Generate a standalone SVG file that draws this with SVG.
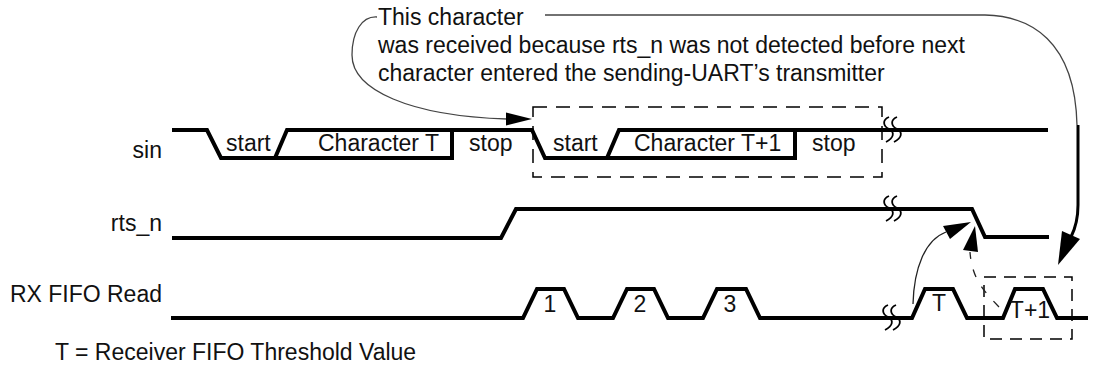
<svg xmlns="http://www.w3.org/2000/svg" width="1093" height="369" viewBox="0 0 1093 369">
<style>
text{font-family:"Liberation Sans",Arial,sans-serif;font-size:23px;fill:#111}
.lbl{text-anchor:end}
.mid{text-anchor:middle}
.sig{fill:none;stroke:#000;stroke-width:4;stroke-linejoin:miter}
.box{fill:none;stroke:#000;stroke-width:1.5;stroke-dasharray:14 9}
.box2{fill:none;stroke:#000;stroke-width:1.5;stroke-dasharray:12 8}
.brk{fill:none;stroke:#000;stroke-width:1.8}
.thin{fill:none;stroke:#444;stroke-width:1.3}
.solid{fill:none;stroke:#222;stroke-width:1.3}
.dash2{fill:none;stroke:#222;stroke-width:1.3;stroke-dasharray:8 11}
.head{fill:#000;stroke:none}
</style>
<defs>
<g id="brk">
<path class="brk" d="M0,-13 c-7,3 -6,9 0,12 c6,3 5,9 -3,13"/>
<path class="brk" d="M8,-13 c-7,3 -6,9 0,12 c6,3 5,9 -3,13"/>
</g>
</defs>
<rect width="1093" height="369" fill="#fff"/>

<g id="note">
<text x="378" y="25">This character</text>
<text x="378" y="53">was received because rts_n was not detected before next</text>
<text x="378" y="81">character entered the sending-UART’s transmitter</text>
</g>

<g id="sin">
<text class="lbl" x="162" y="158">sin</text>
<path class="sig" d="M172,130 H207 L221,158 H452 V130"/>
<path class="sig" d="M275,158 L287,130 H532 L545,158 H795 V130"/>
<path class="sig" d="M607,158 L619,130 H1048"/>
<text x="226" y="151">start</text>
<text x="318" y="151">Character T</text>
<text x="469" y="151">stop</text>
<text x="553" y="151">start</text>
<text x="634" y="151">Character T+1</text>
<text x="812" y="151">stop</text>
<rect class="box" x="533" y="107" width="349" height="70"/>
<use href="#brk" x="889" y="130"/>
</g>

<g id="rts_n">
<text class="lbl" x="162" y="231">rts_n</text>
<path class="sig" d="M172,238 H501 L516,209 H972 L985,237 H1049"/>
<use href="#brk" x="889" y="209"/>
</g>

<g id="rx_fifo_read">
<text class="lbl" x="162" y="302">RX FIFO Read</text>
<path class="sig" d="M171,318 H523 L537,289 H564 L578,318 H613 L627,289 H654 L668,318 H703 L717,289 H746 L760,318 H912 L925,289 H953 L967,318 H1003 L1015,289 H1043 L1057,318 H1088"/>
<text class="mid" x="550" y="312">1</text>
<text class="mid" x="640" y="312">2</text>
<text class="mid" x="730" y="312">3</text>
<text class="mid" x="939" y="311">T</text>
<text class="mid" x="1030" y="318">T+1</text>
<rect class="box2" x="984" y="277" width="88" height="62"/>
<use href="#brk" x="888" y="318"/>
</g>

<g id="footer">
<text x="55" y="360">T = Receiver FIFO Threshold Value</text>
</g>

<g id="connectors">
<path class="thin" d="M377,17 C362,16 352,32 352,55 C352,90 410,116 507,119"/>
<polygon class="head" points="532,119 506,112.5 506,125.5"/>
<path class="thin" d="M545,15 H985 C1030,16 1075,40 1077,125"/>
<path fill="none" stroke="#000" stroke-width="3" d="M1078,125 V205 C1078,220 1075,229 1071,237"/>
<polygon class="head" points="1058,265 1062,231 1080,239"/>
<path class="solid" d="M913,304 C914,268 925,240 946,232"/>
<polygon class="head" points="971,222 943,226 950,239"/>
<path class="dash2" d="M999,307 C985,292 972,280 970,252"/>
<polygon class="head" points="975,226 963,250 978,252"/>
</g>
</svg>
